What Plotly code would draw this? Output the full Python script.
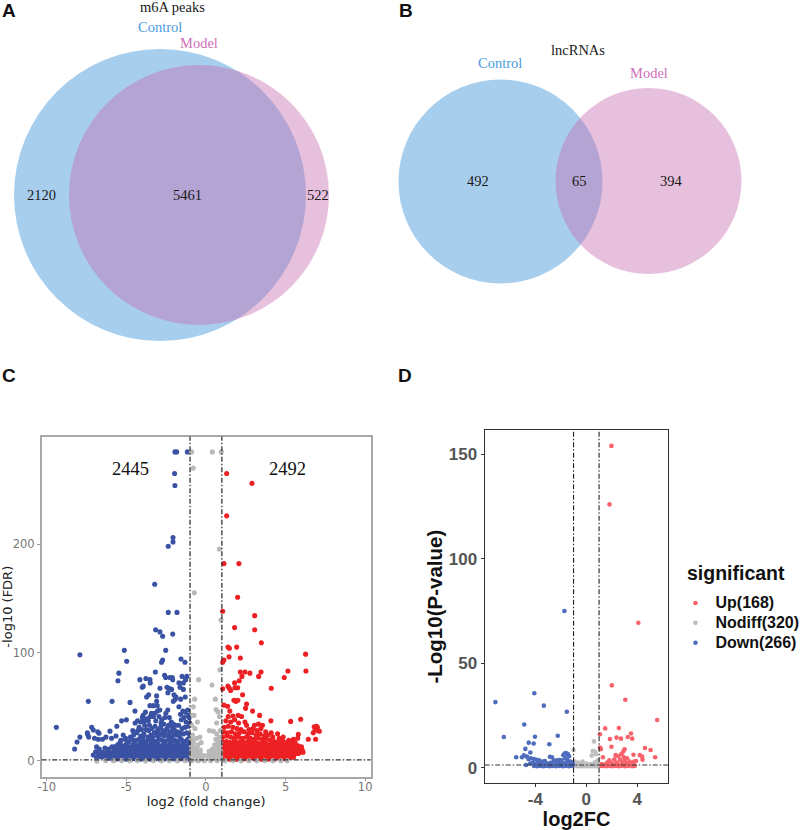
import plotly.graph_objects as go

W, H = 800, 830

# Venn counts
venn_a_counts = [2120, 5461, 522]
venn_b_counts = [492, 65, 394]

# panel C as (log2FC, -log10 FDR)
c_down = [
    (-1.95,285),(-1.84,285),(-1.17,285),(-1.97,265),(-1.95,254),(-2.07,206),(-2.07,202),(-2.37,198),(-3.22,163),
    (-2.37,137),(-1.82,137),(-3.16,121),(-2.89,119),(-2.72,115),(-2.09,117),(-5.13,102),(-2.53,102),(-7.92,98),
    (-4.98,92),(-2.72,93),(-2.79,91),(-1.57,94),(-1.32,91),(-5.47,81),(-5.53,74),(-3.18,82),(-4.15,75),(-3.77,76),
    (-3.52,75),(-3.5,72),(-3.94,69),(-4.0,68),(-2.6,79),(-2.53,77),(-2.26,77),(-2.12,77),(-2.09,75),(-1.5,78),
    (-1.2,78),(-1.7,72),(-1.42,72),(-1.28,75),(-1.63,68),(-1.42,66),(-2.45,68),(-2.32,67),(-2.16,66),(-2.89,67),
    (-2.39,63),(-3.6,61),(-3.73,59),(-3.1,60),(-2.01,61),(-1.88,59),(-2.05,55),(-1.93,57),(-1.59,57),(-1.3,59),
    (-7.39,55),(-5.9,55),(-4.77,54),(-3.52,51),(-3.31,51),(-3.1,55),(-3.06,51),(-1.7,50),(-4.46,46),
    (-9.4,31),(-7.92,22),(-8.1,17.5),(-8.25,11),(-7.45,26),(-7.43,24.5),(-7.37,22),(-7.18,31),(-7.08,28.5),
    (-6.8,27),(-6.72,25.5),(-7.0,21),(-6.76,20),(-6.5,20),(-6.28,22),(-6.03,27.5),(-5.93,21),(-5.6,32),(-5.3,37),
    (-5.0,38),(-6.87,13),(-6.93,8.5),(-7.08,5.5),(-6.87,3.4),(-6.76,7),(-6.7,11),(-6.6,4),
    (-4.3,37),(-4.1,36),(-3.95,42),(-3.8,45),(-3.7,39),(-3.55,33),(-3.42,44),(-3.3,41),(-3.15,37),(-3.05,46),
    (-2.9,47),(-2.78,38),(-2.65,34),(-2.52,44),(-2.4,47),(-2.3,40),(-2.18,36),(-2.05,34),(-1.6,43),(-1.45,46),
    (-1.3,45),(-1.15,47),(-1.05,40),(-1.55,38),(-1.25,36),(-4.45,35),(-4.2,31),(-4.05,29),(-3.85,33),(-3.6,28),
    (-3.4,30),(-3.2,32),(-3.0,29),(-2.85,31),(-2.7,28),(-2.45,30),(-2.25,27),(-2.0,29),(-1.8,27),(-1.5,30),
    (-1.1,32),(-4.55,24),(-4.35,26),(-4.1,23),(-3.9,25),(-3.65,22),(-3.45,24),(-3.25,26),(-3.05,23),(-2.88,25),
    (-2.6,23),(-2.35,24),(-2.15,22),(-1.9,24),(-1.65,22),(-1.4,25),(-1.2,26),(-1.03,24),
    (-4.0,40),(-3.88,37),(-3.62,37),(-3.5,41),(-3.22,44),(-2.95,41),(-2.82,35),(-2.58,40),(-2.35,33),(-2.12,31),
    (-1.38,40),(-1.12,42),(-1.02,35),(-1.72,33),(-1.92,33),(-2.55,27),(-3.12,27),(-3.75,29),(-4.28,28),(-4.6,28),
    (-1.32,31),(-1.62,26),(-2.02,25),(-2.75,24),(-3.35,22),(-3.95,22),(-4.75,22),(-5.05,21),(-5.2,24),(-5.65,23),
    (-5.35,19),(-5.1,20),(-4.85,18),(-4.65,20),(-4.4,19),(-4.2,20),(-3.95,19),(-3.75,18),(-3.55,20),(-3.35,19),
    (-3.15,18),(-2.95,20),(-2.75,19),(-2.55,18),(-2.35,20),(-2.15,18),(-1.95,19),(-1.75,18),(-1.55,20),(-1.35,18),
    (-1.15,20),(-5.55,15),(-5.3,14),(-5.05,15),(-4.85,13),(-4.6,15),(-4.4,14),(-4.2,15),(-4.0,14),(-3.8,15),
    (-3.6,14),(-3.4,15),(-3.2,14),(-3.0,15),(-2.8,14),(-2.6,15),(-2.4,14),(-2.2,15),(-2.0,14),(-1.8,15),(-1.6,14),
    (-1.4,15),(-1.2,14),(-1.03,15),(-6.35,12),(-6.1,11),(-5.9,13),(-5.7,11),(-5.45,11),(-5.2,10),(-5.0,11),(-4.8,10),
    (-4.6,11),(-4.4,10),(-4.2,11),(-4.0,10),(-3.8,11),(-3.6,10),(-3.4,11),(-3.2,10),(-3.0,11),(-2.8,10),(-2.6,11),
    (-2.4,10),(-2.2,11),(-2.0,10),(-1.8,11),(-1.6,10),(-1.4,11),(-1.2,10),(-1.03,11),
    (-6.5,8),(-6.3,7),(-6.1,8),(-5.9,7),(-5.7,8),(-5.5,7),(-5.3,8),(-5.1,7),(-4.9,7),(-4.7,7),(-4.5,6.5),(-4.3,7),
    (-4.1,7),(-3.9,6.5),(-3.7,7),(-3.5,6.5),(-3.3,7),(-3.1,6.5),(-2.9,7),(-2.7,6.5),(-2.5,7),(-2.3,6.5),(-2.1,7),
    (-1.9,6.5),(-1.7,7),(-1.5,6.5),(-1.3,7),(-1.1,6.5),(-6.45,4),(-6.25,3.5),(-6.05,4),(-5.85,3.5),(-5.65,4),
    (-5.45,3.5),(-5.25,4),(-5.05,3.5),(-4.85,4),(-4.65,3.5),(-4.45,4),(-4.25,3.5),(-4.05,4),(-3.85,3.5),(-3.65,4),
    (-3.45,3.5),(-3.25,4),(-3.05,3.5),(-2.85,4),(-2.65,3.5),(-2.45,4),(-2.25,3.5),(-2.05,4),(-1.85,3.5),(-1.65,4),
    (-1.45,3.5),(-1.25,4),(-1.05,3.5),(-5.9,1.8),(-5.6,1.8),(-5.3,1.6),(-5.0,1.7),(-4.7,1.6),(-4.4,1.8),(-4.1,1.6),
    (-3.8,1.8),(-3.5,1.6),(-3.2,1.8),(-2.9,1.6),(-2.6,1.8),(-2.3,1.6),(-2.0,1.8),(-1.7,1.6),(-1.4,1.8),(-1.1,1.6),
    (-5.4,17),(-4.95,16.5),(-4.5,17),(-4.1,17),(-3.85,16.5),(-3.45,17),(-3.05,16.5),(-2.65,17),(-2.25,16.5),(-1.85,17),
    (-1.45,16.5),(-1.08,17),(-5.75,13),(-5.15,12.5),(-4.7,12.5),(-4.3,12.5),(-3.9,12.5),(-3.5,12.5),(-3.1,12.5),
    (-2.7,12.5),(-2.3,12.5),(-1.9,12.5),(-1.5,12.5),(-1.1,12.5),(-6.2,9.5),(-5.8,9),(-5.35,9),(-4.9,9),(-4.5,8.8),
    (-4.1,9),(-3.7,8.8),(-3.3,9),(-2.9,8.8),(-2.5,9),(-2.1,8.8),(-1.7,9),(-1.3,8.8),(-6.4,5.5),(-6.0,5.5),(-5.6,5.5),
    (-5.2,5.3),(-4.8,5.5),(-4.4,5.3),(-4.0,5.5),(-3.6,5.3),(-3.2,5.5),(-2.8,5.3),(-2.4,5.5),(-2.0,5.3),(-1.6,5.5),
    (-1.2,5.3),(-6.2,2.2),(-5.75,2.4),(-5.15,2.4),(-4.55,2.4),(-3.95,2.4),(-3.35,2.4),(-2.75,2.4),(-2.15,2.4),(-1.55,2.4),
]
c_nodiff = [
    (-0.9,285),(0.4,285),(0.96,285),(-0.8,270),(0.84,195.5),(-0.73,155),(0.94,130),(0.88,84),(-0.46,75),(0.38,70),
    (-0.71,57),(0.59,57),(-0.8,50),(0.63,47.5),(0.75,45.5),(-0.84,42),(-0.75,42),(0.84,41),(-0.54,36),(0.67,35),
    (-0.69,30),(0.21,28),(0.46,27.5),(0.67,25),(-0.38,22),(-0.85,24),(-0.6,21),(-0.92,20),(0.85,22),(0.75,18),
    (0.92,17),(-0.8,16),(-0.5,15),(-0.3,17),(0.55,15),(0.7,13),(0.88,13),(-0.92,13),(-0.72,12),(-0.55,11),(-0.35,10),
    (0.2,9),(0.4,11),(0.6,10),(0.78,9),(0.92,9),(-0.9,9),(-0.7,8),(-0.5,7),(-0.3,6),(-0.15,5),(0.1,5),(0.25,6),
    (0.4,7),(0.58,6.5),(0.75,6),(0.92,5),(-0.92,5),(-0.72,4.5),(-0.52,4),(-0.32,3),(0.15,2.5),(0.35,3),(0.55,3),
    (0.75,2.5),(0.92,2),(-0.9,2),(-0.65,1.5),(-0.4,1.2),(-0.88,33),(0.9,28),(0.62,20),(-0.78,19),(0.82,15),
    (-6.85,-0.3),(-6.3,0.2),(-5.8,0.1),(-5.3,0.3),(-4.8,0.1),(-4.3,0.2),(-3.8,-0.1),(-3.3,0.2),(-2.8,0.1),(-2.3,0.2),
    (-1.8,0.1),(-1.3,0.2),(-0.9,0.1),(-0.5,0.2),(-0.1,0.2),(0.3,0.1),(0.7,0.2),(1.2,0.1),(1.7,0.2),(2.2,0.1),(2.7,0.2),
    (3.2,0.1),(3.7,0.2),(4.2,0.1),(4.7,0.2),(5.1,0.1),
]
c_up = [
    (1.3,265),(2.89,256),(1.3,226),(1.13,182),(2.07,182),(1.99,151),(1.05,138),(3.06,134),(1.8,123),(3.06,121),
    (3.48,109),(1.38,105),(1.47,104),(1.93,105),(6.26,98.5),(1.45,96),(2.16,95),(1.13,93),(1.05,91),(5.15,83),
    (6.28,83),(2.16,82),(2.45,82),(2.76,81),(3.46,82),(2.26,78),(3.31,78),(4.92,77),(2.09,74),(1.8,72),(1.38,69),
    (1.47,67),(1.82,67.5),(1.99,67.5),(1.05,66.5),(4.1,67),(1.55,65),(2.3,61),(1.76,56),(1.88,55),(2.0,56),(2.55,52.5),
    (1.13,51.5),(1.36,50.5),(2.49,48.5),(2.93,46),(1.5,46),(3.37,42),(1.4,41),(1.7,41.5),(2.03,42),(2.24,41),(4.08,37),
    (5.32,36.5),(5.95,38.5),(6.95,32),(6.8,31.5),(7.12,27.5),(6.74,26),(6.89,20),(6.43,20),(5.8,24.5),(5.76,21),
    (5.49,20),(7.0,31),(6.85,28),
    (1.25,37),(1.55,36),(1.8,38),(2.05,35),(2.45,36),(2.55,33),(3.05,33),(3.3,34),(3.55,33),(1.15,31),(1.4,32),(1.7,31),
    (1.95,30),(2.2,29),(2.7,29),(2.95,30),(3.2,28),(3.45,30),(3.75,27),(4.1,26),(4.5,25),(1.1,27),(1.35,26),(1.6,27),
    (1.85,25),(2.1,26),(2.4,27),(2.65,25),(2.9,26),(3.15,24),(3.4,25),(3.65,23),(3.9,24),(4.2,22),(4.6,21),(4.85,22),
    (5.2,19),(5.4,18),(5.6,17),(1.05,22),(1.3,23),(1.55,22),(1.8,21),(2.05,22),(2.3,21),(2.55,22),(2.8,21),(3.05,20),
    (3.3,21),(3.55,20),(3.8,20),(4.05,19),(4.3,18),(4.55,18),(4.8,19),(5.05,17),(5.3,15),(5.55,15),(5.8,14),(6.0,13),
    (1.05,18),(1.3,18),(1.5,17),(1.75,18),(1.95,17),(2.2,18),(2.4,17),(2.65,18),(2.85,17),(3.1,17),(3.3,16),(3.55,17),
    (3.75,16),(3.95,15),(4.2,16),(4.4,15),(4.65,16),(4.85,15),(5.05,14),(5.25,13),(5.45,13),(5.65,12),(5.85,12),
    (1.05,14),(1.25,14),(1.45,13),(1.65,14),(1.85,13),(2.05,14),(2.25,13),(2.45,14),(2.65,13),(2.85,14),(3.05,13),
    (3.25,14),(3.45,13),(3.65,13),(3.85,12),(4.05,13),(4.25,12),(4.45,12),(4.65,12),(4.85,11),(5.05,11),(5.25,10),
    (5.45,10),(5.65,10),(5.9,10),(6.05,10),(6.1,8),(5.95,8),
    (1.05,10),(1.25,10),(1.45,9.5),(1.65,10),(1.85,9.5),(2.05,10),(2.25,9.5),(2.45,10),(2.65,9.5),(2.85,10),(3.05,9.5),
    (3.25,10),(3.45,9.5),(3.65,9),(3.85,9.5),(4.05,9),(4.25,9),(4.45,9),(4.65,8.5),(4.85,8.5),(5.05,8),(5.25,8),
    (5.45,7.5),(5.65,7.5),(5.8,7),(1.05,6),(1.25,6.5),(1.45,6),(1.65,6.5),(1.85,6),(2.05,6.5),(2.25,6),(2.45,6.5),
    (2.65,6),(2.85,6.5),(3.05,6),(3.25,6.5),(3.45,6),(3.65,6.5),(3.85,6),(4.05,6.5),(4.25,6),(4.45,5.5),(4.65,6),
    (4.85,5.5),(5.05,5.5),(5.25,5),(5.45,5),(1.1,3),(1.35,3.2),(1.6,3),(1.85,3.2),(2.1,3),(2.35,3.2),(2.6,3),(2.85,3.2),
    (3.1,3),(3.35,3.2),(3.6,3),(3.85,3.2),(4.1,3),(4.35,3.2),(4.6,3),(4.85,3),(5.1,3),(5.3,3.2),
    (1.1,1.5),(1.5,1.6),(1.9,1.5),(2.3,1.6),(2.7,1.5),(3.1,1.6),(3.5,1.5),(3.9,1.6),(4.3,1.5),(4.7,1.6),(5.05,1.5),
    (1.15,16),(1.55,15.5),(1.9,15.5),(2.3,15.5),(2.75,15.5),(3.2,15.5),(3.6,15),(4.05,14.5),(4.5,14),(4.95,13),(5.35,11.5),
    (1.15,12),(1.55,11.5),(1.95,11.5),(2.35,11.5),(2.75,11.5),(3.15,11.5),(3.55,11.5),(3.95,11),(4.35,10.5),(4.75,10),
    (5.15,9.5),(5.55,9),(1.15,8),(1.55,8),(1.95,8),(2.35,8),(2.75,8),(3.15,8),(3.55,8),(3.95,7.5),(4.35,7.5),(4.75,7),
    (5.15,6.8),(5.55,6),(1.15,4.5),(1.55,4.8),(1.95,4.5),(2.35,4.8),(2.75,4.5),(3.15,4.8),(3.55,4.5),(3.95,4.8),(4.35,4.5),
    (4.75,4.5),(5.2,4),(5.5,3.5),(1.3,2.2),(1.7,2.2),(2.5,2.2),(3.3,2.2),(4.1,2.2),(4.9,2.2),
]

# panel D as (log2FC, -log10 P)
d_up = [
    (1.97,154),(1.82,126),(4.08,69.4),(2.0,39.4),(3.06,32.5),(5.56,22.8),(1.48,18.8),(2.55,19),(1.07,16),(3.5,16.4),
    (3.25,14.7),(3.6,13.9),(2.37,14.4),(2.72,13.9),(1.85,13.7),(1.07,9.6),(1.15,8.9),(1.97,10),(3.0,8.8),(2.9,7.7),
    (4.6,9.4),(5.04,8.5),(5.4,5),(4.2,6),(4.38,5.3),(4.41,3.8),(3.7,6.2),(1.3,5),(2.3,6),(2.5,5.5),(2.75,6.5),(2.95,5),
    (3.2,4.5),(2.2,4),(2.65,3.8),(3.0,3.5),(3.4,3),(3.75,3),(3.9,3.2),(1.8,3.5),(1.65,2.5),(2.0,2.2),(2.4,2.5),(2.8,2.4),
    (3.15,2.2),(3.55,2),(1.2,1.8),(1.45,1.6),(1.7,1.5),(1.95,1.2),(2.2,1.5),(2.45,1.4),(2.7,1.2),(2.95,1.5),(3.2,1.3),
    (3.45,1.4),(3.7,1.2),(1.1,0.9),(1.3,0.8),(1.55,0.7),(1.8,0.9),(2.05,0.7),(2.3,0.8),(2.55,0.7),(2.8,0.9),(3.05,0.7),
    (3.3,0.8),(3.6,0.7),(3.8,0.9),
]
d_nodiff = [
    (0.6,12.6),(-1.0,8.5),(0.5,8),(0.68,7.7),(0.42,5.8),(0.75,6.5),(0.92,3.5),(0.8,2.8),(0.65,2.5),(-0.3,3),(-0.65,2.5),
    (-0.9,3),(-0.85,1.8),(-0.6,1.5),(-0.4,1.8),(-0.2,1.4),(0.0,2),(0.2,1.5),(0.4,1.8),(0.55,1.4),(0.85,1.5),(-0.95,0.8),
    (-0.75,0.7),(-0.55,0.7),(-0.35,0.7),(-0.15,0.7),(0.05,0.7),(0.25,0.7),(0.45,0.7),(0.65,0.7),(0.85,0.7),
]
d_down = [
    (-1.72,75),(-7.13,31.4),(-4.08,35.6),(-3.33,29.7),(-1.53,26.8),(-4.87,20.7),(-6.47,14.7),(-4.03,14.8),(-2.24,15.3),
    (-4.52,12),(-4.13,11.6),(-2.9,11.2),(-4.78,9),(-4.39,7.3),(-5.5,5),(-5.04,5),(-4.9,5.9),(-4.65,5.3),(-4.52,4.1),
    (-4.73,1.3),(-4.35,4.5),(-4.1,4.2),(-3.9,3.8),(-3.7,3.5),(-3.45,3),(-3.25,3.2),(-2.85,5.2),(-2.7,5),(-2.55,3.5),
    (-2.3,3.5),(-2.1,3.7),(-1.95,3.6),(-1.8,6),(-1.7,6.8),(-1.6,7),(-1.45,6.5),(-1.35,5.5),(-1.65,4.5),(-1.5,3.8),
    (-1.25,3),(-1.1,2.5),(-4.4,2),(-4.2,2.3),(-4.0,1.8),(-3.8,2),(-3.6,1.8),(-3.4,1.6),(-3.2,1.8),(-3.0,2),(-2.8,2.4),
    (-2.6,1.8),(-2.4,2),(-2.2,1.8),(-2.0,2.2),(-1.8,2),(-1.6,2.4),(-1.4,2),(-1.2,1.8),(-1.05,1.6),(-4.1,0.8),(-3.85,0.7),
    (-3.6,0.8),(-3.35,0.7),(-3.1,0.8),(-2.85,0.7),(-2.6,0.8),(-2.35,0.7),(-2.1,0.8),(-1.85,0.7),(-1.6,0.8),(-1.35,0.7),
    (-1.1,0.8),
]

c_ticks_x = [-10, -5, 0, 5, 10]
c_ticks_y = [0, 100, 200]
d_ticks_x = [-4, 0, 4]
d_ticks_y = [0, 50, 100, 150]

legend_names = ["Up(168)", "Nodiff(320)", "Down(266)"]

BLUE_C, RED_C, GRAY_C = "#3a52a4", "#ed2024", "#b9b9b9"
BLUE_D, RED_D, GRAY_D = "#4f6dbe", "#f8636b", "#bebebe"
SERIF = "Liberation Serif"
DASH = "5px,2px,1.5px,2px"


def pxx(v):
    return v / W


def pxy(v):
    return 1 - v / H


fig = go.Figure()

for pts, col in [(c_up, RED_C), (c_down, BLUE_C), (c_nodiff, GRAY_C)]:
    fig.add_trace(go.Scatter(x=[p[0] for p in pts], y=[p[1] for p in pts], mode="markers",
                             marker=dict(color=col, size=5.1), showlegend=False,
                             xaxis="x", yaxis="y"))

# legend font.size sets the row height, the span sets the drawn size
for pts, col, name in [(d_up, RED_D, legend_names[0]), (d_nodiff, GRAY_D, legend_names[1]),
                       (d_down, BLUE_D, legend_names[2])]:
    fig.add_trace(go.Scatter(x=[p[0] for p in pts], y=[p[1] for p in pts], mode="markers",
                             name=f'<span style="font-size:16px"><b>{name}</b></span>',
                             marker=dict(color=col, size=4.6), xaxis="x2", yaxis="y2"))

# venn circles, (cx, cy, r) in page pixels
circles = [
    (160, 195, 146, "rgb(168,206,238)", 1),
    (199, 195, 130, "rgb(197,109,176)", 0.43),
    (500.5, 181.5, 102, "rgb(168,206,238)", 1),
    (648.5, 181, 93, "rgb(197,109,176)", 0.43),
]
for cx, cy, r, col, op in circles:
    fig.add_shape(type="circle", xref="paper", yref="paper", x0=pxx(cx - r), x1=pxx(cx + r),
                  y0=pxy(cy + r), y1=pxy(cy - r), fillcolor=col, opacity=op, line_width=0, layer="below")

# threshold lines
for xv in [-1, 1]:
    fig.add_shape(type="line", xref="x", yref="y domain", x0=xv, x1=xv, y0=0, y1=1,
                  line=dict(color="#222", width=1.2, dash=DASH))
    fig.add_shape(type="line", xref="x2", yref="y2 domain", x0=xv, x1=xv, y0=0, y1=1,
                  line=dict(color="#222", width=1.1, dash=DASH))
fig.add_shape(type="line", xref="x domain", yref="y", x0=0, x1=1, y0=1, y1=1,
              line=dict(color="#333", width=1.2, dash=DASH))
fig.add_shape(type="line", xref="x2 domain", yref="y2", x0=0, x1=1, y0=1.3, y1=1.3,
              line=dict(color="#333", width=1.1, dash=DASH))


def note(x, y, text, size=14.5, color="#1a1a1a", family=SERIF, bold=False, anchor="center"):
    fig.add_annotation(x=pxx(x), y=pxy(y), xref="paper", yref="paper", text=f"<b>{text}</b>" if bold else text,
                       showarrow=False, font=dict(size=size, color=color, family=family),
                       xanchor=anchor, yanchor="middle")


for x, y, t in [(9, 11, "A"), (406, 11, "B"), (9, 375, "C"), (405, 375, "D")]:
    note(x, y, t, size=19, color="#111", family="Liberation Sans", bold=True)

note(172, 7, "m6A peaks")
note(160, 27, "Control", color="#4b9ae0")
note(199, 43, "Model", color="#cf6fb8")
note(41, 195, str(venn_a_counts[0]))
note(187, 195, str(venn_a_counts[1]))
note(318, 195, str(venn_a_counts[2]))

note(578, 50, "lncRNAs")
note(500, 63, "Control", color="#4b9ae0")
note(649, 73, "Model", color="#cf6fb8")
note(478, 181, str(venn_b_counts[0]))
note(579, 181, str(venn_b_counts[1]))
note(671, 181, str(venn_b_counts[2]))

note(130, 469, "2445", size=18.5, color="#111")
note(287, 469, "2492", size=18.5, color="#111")

note(685, 573, "significant", size=19.5, color="#111", family="Liberation Sans", bold=True, anchor="left")

fig.update_layout(
    width=W, height=H, margin=dict(l=0, r=0, t=0, b=0, autoexpand=False),
    paper_bgcolor="white", plot_bgcolor="white",
    xaxis=dict(domain=[pxx(41.7), pxx(370.7)], range=[-10.32, 10.35], tickvals=c_ticks_x,
               ticktext=[str(v) for v in c_ticks_x], showgrid=False, zeroline=False,
               showline=True, mirror=True, linecolor="#a8a8a8", linewidth=1.5,
               ticks="outside", ticklen=3, tickcolor="#999", ticklabelstandoff=-4,
               tickfont=dict(size=11.5, color="#777", family="DejaVu Sans"),
               title=dict(text="log2 (fold change)", standoff=2, font=dict(size=13, color="#222", family="DejaVu Sans"))),
    yaxis=dict(domain=[pxy(776.7), pxy(436.7)], range=[-14.5, 299], tickvals=c_ticks_y,
               ticktext=[str(v) for v in c_ticks_y], showgrid=False, zeroline=False,
               showline=True, mirror=True, linecolor="#a8a8a8", linewidth=1.5,
               ticks="outside", ticklen=3, tickcolor="#999",
               tickfont=dict(size=11.5, color="#777", family="DejaVu Sans"),
               title=dict(text="-log10 (FDR)", standoff=3, font=dict(size=13, color="#222", family="DejaVu Sans"))),
    xaxis2=dict(domain=[pxx(484.7), pxx(668.3)], range=[-7.97, 6.43], tickvals=d_ticks_x,
                ticktext=[str(v) for v in d_ticks_x], showgrid=False, zeroline=False, anchor="y2",
                showline=True, mirror=True, linecolor="#333", linewidth=1.3,
                ticks="outside", ticklen=3, tickcolor="#333", ticklabelstandoff=-3,
                tickfont=dict(size=17, color="#555", family="Liberation Sans", weight="bold"),
                title=dict(text="<b>log2FC</b>", standoff=3, font=dict(size=20, color="#111", family="Liberation Sans"))),
    yaxis2=dict(domain=[pxy(783.3), pxy(430)], range=[-7.46, 161.6], tickvals=d_ticks_y,
                ticktext=[str(v) for v in d_ticks_y], showgrid=False, zeroline=False, anchor="x2",
                showline=True, mirror=True, linecolor="#333", linewidth=1.3,
                ticks="outside", ticklen=3, tickcolor="#333",
                tickfont=dict(size=17, color="#555", family="Liberation Sans", weight="bold"),
                title=dict(text="<b>-Log10(P-value)</b>", standoff=0, font=dict(size=20.5, color="#111", family="Liberation Sans"))),
    legend=dict(x=pxx(675.5), y=pxy(588), xanchor="left", yanchor="top", bgcolor="rgba(0,0,0,0)",
                font=dict(size=13, color="#111", family="Liberation Sans"),
                itemwidth=30, tracegroupgap=0),
)

fig.write_html("out.html", config={"displayModeBar": False}, post_script="document.body.style.margin='0';")
